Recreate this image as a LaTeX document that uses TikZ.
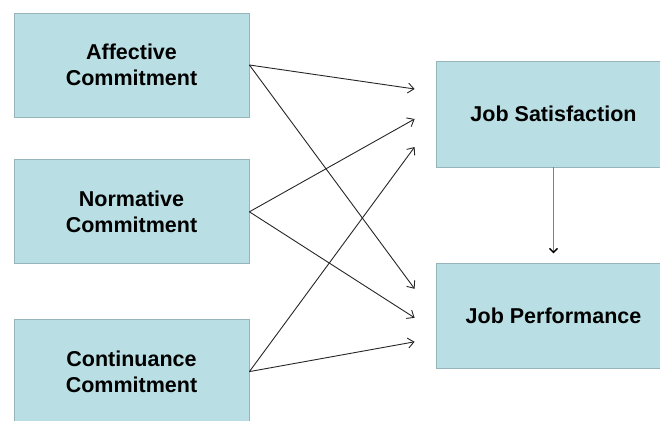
\documentclass[tikz,border=0pt]{standalone}
\usepackage{fontspec}
\setmainfont{Liberation Sans}
\usepackage{tikz}
\usetikzlibrary{arrows,arrows.meta}
\usetikzlibrary{positioning,shapes}

\definecolor{boxfill}{RGB}{185,223,228}
\definecolor{boxline}{RGB}{150,180,186}

\begin{document}
\begin{tikzpicture} [x=1pt,y=-1pt,->,>={Straight Barb[length=6pt,width=10pt]},line width=0.9pt]
  \tikzset{factor/.style={draw=boxline,fill=boxfill,line width=0.8pt,minimum width=235pt,minimum height=104pt,
      align=center,font=\fontsize{21.5}{26}\selectfont\bfseries}}
  \useasboundingbox (0,0) rectangle (660,420);

  \node[factor] (1) at (131.5,65) {Affective\\Commitment};
  \node[factor] (2) [below=42pt of 1] {Normative\\Commitment};
  \node[factor] (3) [below=55pt of 2] {Continuance\\Commitment};
  \node[factor, minimum height=106pt] (4) at (553.5,114) {Job Satisfaction};
  \node[factor, minimum height=105pt] (5) [below=96pt of 4] {Job Performance};

  \path[color=black!85]
    (1.east) edge ([xshift=-21pt,yshift=25pt]4.west)
             edge ([xshift=-21pt,yshift=27.5pt]5.west)
    (2.east) edge ([xshift=-21pt,yshift=-5pt]4.west)
             edge ([xshift=-21pt,yshift=-1.5pt]5.west)
    (3.east) edge ([xshift=-21pt,yshift=-33pt]4.west)
             edge ([xshift=-21pt,yshift=-25.5pt]5.west);

  \path[color=black!50,line width=1.4pt,>={Straight Barb[length=4pt,width=8pt,color=black]}]
    (4.south) edge [shorten >=10pt] (5.north);
\end{tikzpicture}
\end{document}
